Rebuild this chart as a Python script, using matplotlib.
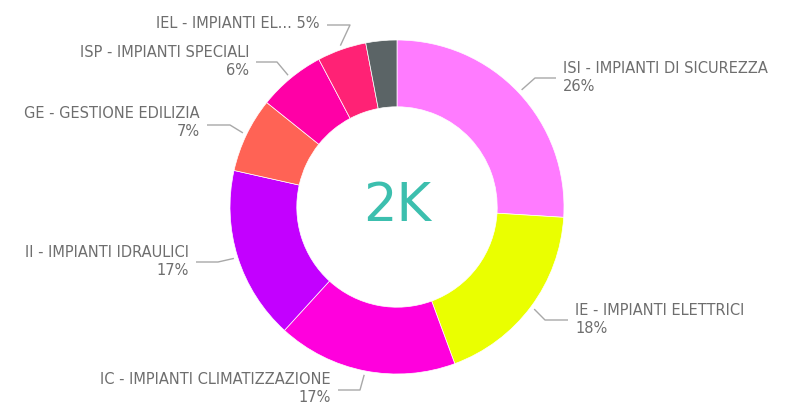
import matplotlib
matplotlib.use("Agg")
import matplotlib.pyplot as plt
import numpy as np

categories = ["ISI - IMPIANTI DI SICUREZZA", "IE - IMPIANTI ELETTRICI",
              "IC - IMPIANTI CLIMATIZZAZIONE", "II - IMPIANTI IDRAULICI",
              "GE - GESTIONE EDILIZIA", "ISP - IMPIANTI SPECIALI",
              "IEL - IMPIANTI EL...", "ALTRO"]
values = [520, 368, 348, 335, 145, 130, 95, 60]
colors = ["#FF7BFF", "#EAFF00", "#FF00DD", "#C300FF", "#FF6355",
          "#FF00A6", "#FF2275", "#5B6466"]
total_label = "2K"

label_font = "DejaVu Sans"
label_size = 10.5

W, H = 787, 405
fig = plt.figure(figsize=(W / 100, H / 100), dpi=100)
ax = fig.add_axes([0, 0, 1, 1])

cx, cy, R = 397, 198, 167
wedges, _ = ax.pie(values, colors=colors, startangle=90, counterclock=False,
                   radius=R, center=(cx, cy), frame=True,
                   wedgeprops=dict(width=R * 0.4, edgecolor="white", linewidth=0.5))
ax.set_xlim(0, W)
ax.set_ylim(0, H)
ax.set_aspect("equal")
ax.axis("off")

ax.text(cx, cy + 1, total_label, ha="center", va="center", fontsize=38,
        color="#3CBFAE", family="DejaVu Sans")

total = sum(values)
pcts = [v / total * 100 for v in values]

layout = {
    0: dict(elbow=(535, 327), end=(556, 327), tx=563, ty=327, ha="left"),
    1: dict(elbow=(545, 85), end=(568, 85), tx=575, ty=85, ha="left"),
    2: dict(elbow=(360, 15), end=(338, 15), tx=331, ty=16, ha="right"),
    3: dict(elbow=(218, 143), end=(196, 143), tx=189, ty=143, ha="right"),
    4: dict(elbow=(230, 280), end=(207, 280), tx=200, ty=282, ha="right"),
    5: dict(elbow=(277, 343), end=(256, 343), tx=249, ty=343, ha="right"),
    6: dict(elbow=(350, 380), end=(327, 380), tx=319, ty=381, ha="right", single=True),
}

txt_color = "#6E6E6E"
for i, w in enumerate(wedges):
    if i not in layout:
        continue
    L = layout[i]
    ang = np.deg2rad((w.theta1 + w.theta2) / 2)
    sx, sy = cx + (R + 4) * np.cos(ang), cy + (R + 4) * np.sin(ang)
    ax.plot([sx, L["elbow"][0], L["end"][0]], [sy, L["elbow"][1], L["end"][1]],
            color="#A8A8A8", lw=1.0, solid_capstyle="butt")
    p = f"{pcts[i]:.0f}%"
    kw = dict(ha=L["ha"], fontsize=label_size, color=txt_color, family=label_font)
    if L.get("single"):
        ax.text(L["tx"], L["ty"], f"{categories[i]} {p}", va="center", **kw)
    else:
        ax.text(L["tx"], L["ty"] + 2, categories[i], va="bottom", **kw)
        ax.text(L["tx"], L["ty"] - 1, p, va="top", **kw)

fig.savefig("out.png", dpi=100, facecolor="white")
